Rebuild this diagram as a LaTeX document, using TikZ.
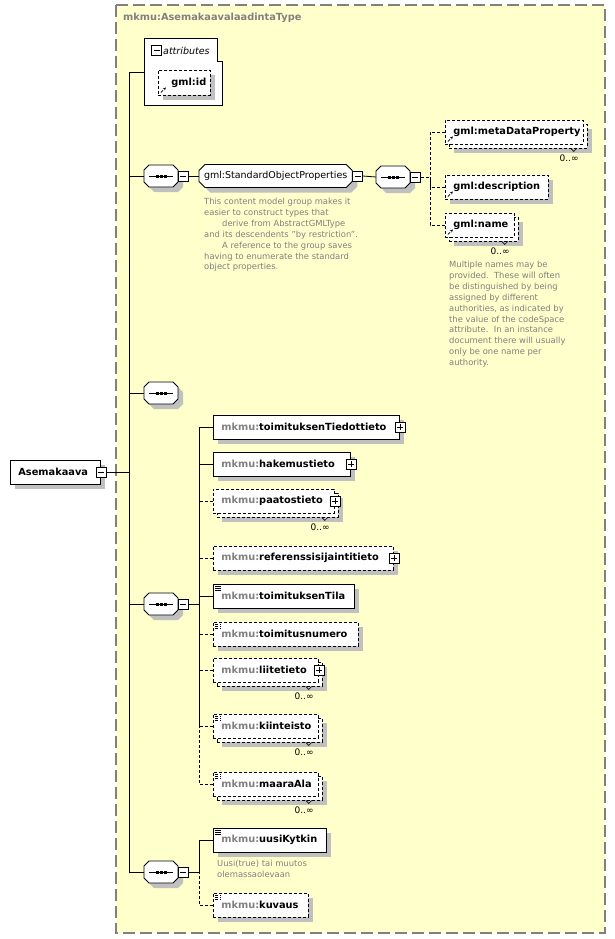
\documentclass[tikz,border=0pt]{standalone}
\usepackage{fontspec}
\setmainfont{DejaVu Sans}
\usetikzlibrary{shadows,arrows.meta}

\definecolor{typebg}{RGB}{255,255,204}
\definecolor{typeline}{RGB}{128,128,128}
\definecolor{shd}{RGB}{192,192,192}
\definecolor{pfx}{RGB}{128,128,128}
\definecolor{anno}{RGB}{128,128,128}

\newcommand{\mk}[1]{{\color{pfx}mkmu:}#1}
\newcommand{\namefont}{\fontsize{9.8}{11}\selectfont\bfseries}
\newcommand{\annofont}{\fontsize{8.4}{10.9}\selectfont}

% octagonal box for compositors and groups
\makeatletter
\newdimen\octxa \newdimen\octya \newdimen\octxb \newdimen\octyb \newdimen\octc
\def\octcut{5pt}
\pgfdeclareshape{octbox}{%
  \inheritsavedanchors[from=rectangle]%
  \inheritanchorborder[from=rectangle]%
  \inheritanchor[from=rectangle]{center}%
  \inheritanchor[from=rectangle]{north}%
  \inheritanchor[from=rectangle]{south}%
  \inheritanchor[from=rectangle]{west}%
  \inheritanchor[from=rectangle]{east}%
  \inheritanchor[from=rectangle]{north west}%
  \inheritanchor[from=rectangle]{north east}%
  \inheritanchor[from=rectangle]{south west}%
  \inheritanchor[from=rectangle]{south east}%
  \backgroundpath{%
    \southwest \octxa=\pgf@x \octya=\pgf@y
    \northeast \octxb=\pgf@x \octyb=\pgf@y
    \octc=\octcut\relax
    \pgfpathmoveto{\pgfqpoint{\dimexpr\octxa+\octc\relax}{\octya}}%
    \pgfpathlineto{\pgfqpoint{\dimexpr\octxb-\octc\relax}{\octya}}%
    \pgfpathlineto{\pgfqpoint{\octxb}{\dimexpr\octya+\octc\relax}}%
    \pgfpathlineto{\pgfqpoint{\octxb}{\dimexpr\octyb-\octc\relax}}%
    \pgfpathlineto{\pgfqpoint{\dimexpr\octxb-\octc\relax}{\octyb}}%
    \pgfpathlineto{\pgfqpoint{\dimexpr\octxa+\octc\relax}{\octyb}}%
    \pgfpathlineto{\pgfqpoint{\octxa}{\dimexpr\octyb-\octc\relax}}%
    \pgfpathlineto{\pgfqpoint{\octxa}{\dimexpr\octya+\octc\relax}}%
    \pgfpathclose
  }%
}
\makeatother

\tikzset{
  oct cut/.code={\def\octcut{#1}},
  conn/.style={line width=0.8pt},
  opt/.style={dash pattern=on 3pt off 2pt},
  shd1/.style={general shadow={fill=shd, draw=none, shadow xshift=5pt, shadow yshift=-5pt}},
  multi/.style={general shadow={fill=shd, draw=none, shadow xshift=9pt, shadow yshift=-9pt},
                general shadow={fill=white, draw=black, line width=0.8pt, opt, shadow xshift=4pt, shadow yshift=-4pt}},
  elem/.style={rectangle, draw, fill=white, line width=0.8pt, minimum height=24pt,
               inner xsep=8pt, inner ysep=0pt, align=left, font=\namefont},
  tog/.style={rectangle, draw, fill=white, line width=0.6pt, minimum size=10pt, inner sep=0pt},
  tminus/.style={tog, path picture={\draw[line width=0.6pt] ([xshift=2pt]path picture bounding box.west) -- ([xshift=-2pt]path picture bounding box.east);}},
  tplus/.style={tog, path picture={\draw[line width=0.6pt] ([xshift=2pt]path picture bounding box.west) -- ([xshift=-2pt]path picture bounding box.east)
                ([yshift=-2pt]path picture bounding box.north) -- ([yshift=2pt]path picture bounding box.south);}},
  seq/.style={octbox, oct cut=5pt, draw, fill=white, line width=0.8pt, outer sep=0pt,
              minimum width=34pt, minimum height=22pt, inner sep=0pt, shd1,
              path picture={\draw[line width=0.8pt] ([xshift=5pt]path picture bounding box.west) -- ([xshift=-5pt]path picture bounding box.east);
                \foreach \d in {-5.5,-1.5,2.5} \fill[black] ([shift={(\d pt,-1.5pt)}]path picture bounding box.center) rectangle ++(3pt,3pt);}},
  grp/.style={octbox, oct cut=6pt, draw, fill=white, line width=0.8pt, outer sep=0pt,
              minimum height=23pt, inner xsep=5pt, inner ysep=0pt, font=\fontsize{9.5}{11}\selectfont, shd1},
  simp/.style={path picture={\foreach \k in {2.5,4.5,6.5} \draw[line width=0.6pt] ([shift={(2pt,-\k pt)}]path picture bounding box.north west) -- ++(6pt,0pt);}},
  ref/.style={path picture={\draw[line width=0.8pt, -{Stealth[length=3pt,width=3pt]}] ([shift={(2.5pt,2.5pt)}]path picture bounding box.south west) -- ++(5pt,5pt);}},
  occ/.style={anchor=north east, inner sep=0pt, font=\fontsize{9}{10}\selectfont},
  anno/.style={anchor=north west, inner sep=0pt, align=left, text=anno, font=\annofont}
}

\begin{document}
\begin{tikzpicture}[x=1pt, y=-1pt]
  \useasboundingbox (0,0) rectangle (615,939);

  % complex type frame
  \draw[typeline, fill=typebg, line width=1.2pt, dash pattern=on 12pt off 5pt] (116,5) rectangle (605,933);
  \node[anchor=west, inner sep=0pt, font=\namefont, text=pfx] (ttl) at (123,18) {mkmu:AsemakaavalaadintaType};

  % root element
  \node[elem, shd1, anchor=west, text width=74pt] (root) at (10,472) {Asemakaava};
  \node[tminus] (rootm) at (root.east) {};
  \coordinate (trunk) at (129,472);

  % attributes
  \draw[fill=white, line width=0.8pt] (144,38) -- (217,38) -- (217,61) -- (222,61) -- (222,105) -- (144,105) -- cycle;
  \node[tminus] (attm) at (156.5,50.5) {};
  \node[anchor=west, inner sep=0pt, font=\fontsize{9.5}{11}\selectfont\itshape] (attl) at (163,50.5) {attributes};
  \node[elem, opt, shd1, ref, anchor=west, text width=36pt, minimum height=25pt, inner xsep=8pt] (gid) at (158,82.5) {\hspace*{5pt}gml:id};
  \coordinate (attr) at (144,72);

  % sequence 1 : gml standard properties
  \node[seq, anchor=west] (s1) at (144,176) {};
  \node[tminus, anchor=west] (s1m) at (s1.east) {};
  \node[grp, anchor=west] (sop) at (199,176) {gml:StandardObjectProperties};
  \node[tminus, anchor=west] (sopm) at (sop.east) {};
  \node[anno] (sopa) at (204,198) {This content model group makes it\\
    easier to construct types that\\
    \hspace*{18pt}derive from AbstractGMLType\\
    and its descendents "by restriction".\\
    \hspace*{18pt}A reference to the group saves\\
    having to enumerate the standard\\
    object properties.};
  \node[seq, anchor=west] (s1b) at (376,177) {};
  \node[tminus, anchor=west] (s1bm) at (s1b.east) {};
  \coordinate (bgml) at (430,177);
  \node[elem, opt, multi, ref, anchor=west, text width=122pt] (gmd) at (445,132) {gml:metaDataProperty};
  \node[occ] (gmdo) at ([shift={(-5pt,-10pt)}]gmd.south east) {0..∞};
  \node[elem, opt, shd1, ref, anchor=west, text width=87pt] (gde) at (445,187) {gml:description};
  \node[elem, opt, multi, ref, anchor=west, text width=53pt] (gnm) at (445,225) {gml:name};
  \node[occ] (gnmo) at ([shift={(-5pt,-10pt)}]gnm.south east) {0..∞};
  \node[anno] (gnma) at (449,261) {Multiple names may be\\
    provided.\ \ These will often\\
    be distinguished by being\\
    assigned by different\\
    authorities, as indicated by\\
    the value of the codeSpace\\
    attribute.\ \ In an instance\\
    document there will usually\\
    only be one name per\\
    authority.};

  % sequence 2
  \node[seq, anchor=west] (s2) at (144,393) {};

  % sequence 3
  \node[seq, anchor=west] (s3) at (144,604) {};
  \node[tminus, anchor=west] (s3m) at (s3.east) {};
  \coordinate (b3) at (199,604);
  \node[elem, shd1, anchor=west, text width=170pt] (tt) at (213,427) {\mk{toimituksenTiedottieto}};
  \node[tplus] (ttp) at (tt.east) {};
  \node[elem, shd1, anchor=west, text width=121pt] (hk) at (213,464) {\mk{hakemustieto}};
  \node[tplus] (hkp) at (hk.east) {};
  \node[elem, opt, multi, anchor=west, text width=105pt] (pt) at (213,501) {\mk{paatostieto}};
  \node[tplus] (ptp) at (pt.east) {};
  \node[occ] (pto) at ([shift={(-5pt,-10pt)}]pt.south east) {0..∞};
  \node[elem, opt, shd1, anchor=west, text width=164pt] (rf) at (213,558) {\mk{referenssisijaintitieto}};
  \node[tplus] (rfp) at (rf.east) {};
  \node[elem, shd1, simp, anchor=west, text width=125pt] (tl) at (213,596) {\mk{toimituksenTila}};
  \node[elem, opt, shd1, simp, anchor=west, text width=129pt] (tn) at (213,634) {\mk{toimitusnumero}};
  \node[elem, opt, multi, anchor=west, text width=89pt] (lt) at (213,670) {\mk{liitetieto}};
  \node[tplus] (ltp) at (lt.east) {};
  \node[occ] (lto) at ([shift={(-5pt,-10pt)}]lt.south east) {0..∞};
  \node[elem, opt, multi, simp, anchor=west, text width=89pt] (ki) at (213,726) {\mk{kiinteisto}};
  \node[occ] (kio) at ([shift={(-5pt,-10pt)}]ki.south east) {0..∞};
  \node[elem, opt, multi, simp, anchor=west, text width=89pt] (ma) at (213,784) {\mk{maaraAla}};
  \node[occ] (mao) at ([shift={(-5pt,-10pt)}]ma.south east) {0..∞};

  % sequence 4
  \node[seq, anchor=west] (s4) at (144,872) {};
  \node[tminus, anchor=west] (s4m) at (s4.east) {};
  \coordinate (b4) at (199,872);
  \node[elem, shd1, simp, anchor=west, text width=97pt] (uk) at (213,840) {\mk{uusiKytkin}};
  \node[anno] (uka) at (217,860) {Uusi(true) tai muutos\\olemassaolevaan};
  \node[elem, opt, shd1, simp, anchor=west, text width=79pt] (kv) at (213,905) {\mk{kuvaus}};

  % connectors
  \draw[conn] (rootm.east) -- (trunk);
  \draw[conn] (attr) -| (trunk);
  \foreach \s in {s1,s2,s3,s4} \draw[conn] (\s.west) -| (trunk);
  \draw[conn] (s1m.east) -- (sop.west);
  \draw[conn] (sopm.east) -- (s1b.west);
  \draw[conn, opt] (s1bm.east) -- (bgml);
  \foreach \g in {gmd,gde,gnm} \draw[conn, opt] (\g.west) -| (bgml);
  \draw[conn] (s3m.east) -- (b3);
  \foreach \e in {tt,hk,tl} \draw[conn] (\e.west) -| (b3);
  \foreach \e in {pt,rf,tn,lt,ki,ma} \draw[conn, opt] (\e.west) -| (b3);
  \draw[conn] (s4m.east) -- (b4);
  \draw[conn] (uk.west) -| (b4);
  \draw[conn, opt] (kv.west) -| (b4);

  % occurrence ticks
  \foreach \e in {gmd,gnm,pt,lt,ki,ma}
    \draw[line width=0.6pt] ([shift={(-13pt,-4pt)}]\e.south east) -- ++(3pt,-3pt) -- ++(3pt,3pt);
\end{tikzpicture}
\end{document}
